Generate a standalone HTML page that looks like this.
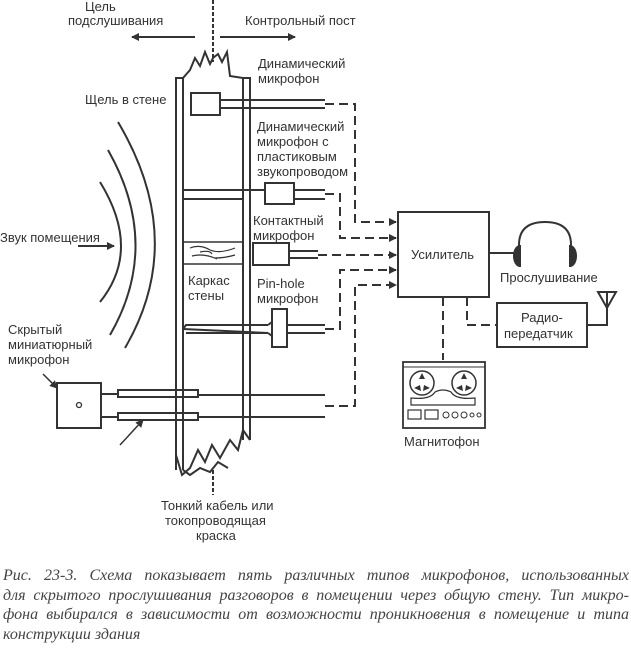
<!DOCTYPE html>
<html><head><meta charset="utf-8"><style>
html,body{margin:0;padding:0;background:#fff;}
svg{display:block;}
.t{font-family:"Liberation Sans",sans-serif;font-size:13px;fill:#333;}
.cap{position:absolute;left:3px;top:566px;width:626px;font-family:"Liberation Serif",serif;font-style:italic;font-size:16px;line-height:19.7px;color:#444;}
.cap div{text-align:justify;text-align-last:justify;white-space:nowrap;}
.cap div.l{text-align-last:left;}
</style></head><body>
<div style="position:relative;width:631px;height:650px;overflow:hidden">
<svg width="631" height="650" viewBox="0 0 631 650">
<defs><marker id="a" markerWidth="8" markerHeight="8" refX="7" refY="4" orient="auto" markerUnits="userSpaceOnUse"><path d="M0,0 L8,4 L0,8z" fill="#333"/></marker></defs>
<g stroke="#333" stroke-width="2" fill="none">
<line x1="213" y1="0" x2="213" y2="62" stroke-dasharray="4,2"/>
<line x1="195" y1="37" x2="132" y2="37" marker-end="url(#a)"/>
<line x1="220" y1="37" x2="295" y2="37" marker-end="url(#a)"/>
<path d="M176,470 L176,78 L183,78 L190,70 L195,58 L200,66 L205,52 L210,64 L213,58 L218,54 L222,62 L227,52 L230,76 L243,78 L250,78 L250,440"/>
<line x1="183" y1="78" x2="183" y2="470"/>
<line x1="243" y1="78" x2="243" y2="440"/>
<line x1="183" y1="190" x2="325" y2="190"/>
<line x1="183" y1="199" x2="243" y2="199"/>
<path d="M176,455 L182,475 L190,468 L198,450 L205,462 L212,445 L220,458 L230,440 L238,450 L243,430 L250,440"/>
<path d="M183,470 L190,475 L200,468 L210,472 L218,462 L228,468"/>
<line x1="213" y1="470" x2="213" y2="495" stroke-dasharray="4,2"/>
<rect x="183" y="242" width="60" height="22" stroke-width="1.5"/>
<path d="M190,248 q10,-4 20,2 q10,4 25,-2 M192,256 q12,-3 25,3 M200,252 q10,-2 12,2 M215,258 q10,0 20,-3" stroke-width="1.2"/>
<rect x="191" y="93" width="29" height="22" fill="#fff"/>
<line x1="220" y1="100" x2="325" y2="100"/><line x1="220" y1="108" x2="325" y2="108"/>
<rect x="265" y="183" width="29" height="21" fill="#fff"/>
<line x1="294" y1="190" x2="325" y2="190"/><line x1="294" y1="199" x2="325" y2="199"/>
<rect x="253" y="243" width="36" height="22"/>
<line x1="289" y1="251" x2="318" y2="251"/><line x1="289" y1="258" x2="318" y2="258"/>
<path d="M183,329 L186,325 L268,325 M186,333 L268,333 L183,329"/>
<rect x="272" y="309" width="15" height="38" fill="#fff"/>
<line x1="268" y1="325" x2="272" y2="322"/><line x1="268" y1="333" x2="272" y2="336"/>
<line x1="287" y1="325" x2="325" y2="325"/><line x1="287" y1="333" x2="325" y2="333"/>
<rect x="57" y="383" width="44" height="45"/>
<circle cx="79" cy="405" r="2.5" stroke-width="1.3"/>
<line x1="101" y1="394" x2="118" y2="394"/><line x1="101" y1="417" x2="118" y2="417"/>
<rect x="118" y="390" width="80" height="7"/><rect x="118" y="413" width="80" height="7"/>
<line x1="198" y1="395" x2="325" y2="395"/><line x1="198" y1="417" x2="325" y2="417"/>
<line x1="43" y1="374" x2="57" y2="388" marker-end="url(#a)" stroke-width="1.5"/>
<line x1="120" y1="445" x2="143" y2="420" marker-end="url(#a)" stroke-width="1.5"/>
<path d="M108,150 Q162,245 110,335"/>
<path d="M118,122 Q188,240 125,348"/>
<path d="M100,182 Q142,250 100,302"/>
<line x1="78" y1="246" x2="114" y2="246" marker-end="url(#a)"/>
<g stroke-dasharray="9,5">
<path d="M325,104 L355,104 L355,222 L396,222" marker-end="url(#a)"/>
<path d="M325,194 L340,194 L340,238 L396,238" marker-end="url(#a)"/>
<path d="M318,255 L396,255" marker-end="url(#a)"/>
<path d="M325,329 L340,329 L340,270 L396,270" marker-end="url(#a)"/>
<path d="M325,406 L355,406 L355,285 L396,285" marker-end="url(#a)"/>
<path d="M443,297 L443,360"/>
<path d="M467,297 L467,325 L497,325"/>
</g>
<rect x="398" y="212" width="91" height="85"/>
<line x1="489" y1="253" x2="515" y2="253"/>
<path d="M519,258 L519,245 Q519,222 545,222 Q571,222 571,245 L571,258"/>
<path d="M520,246 a6,10 0 0 0 0,20z" fill="#333"/>
<path d="M570,246 a6,10 0 0 1 0,20z" fill="#333"/>
<rect x="497" y="303" width="90" height="44"/>
<path d="M587,325 L607,325 L607,305"/>
<path d="M598,292 L616,292 L607,308z M607,292 L607,305"/>
<rect x="403" y="362" width="82" height="66" stroke-width="1.8"/>
<line x1="403" y1="367" x2="485" y2="367" stroke-width="1"/>
<circle cx="422" cy="383" r="12" stroke-width="1.5"/><circle cx="464" cy="383" r="12" stroke-width="1.5"/>
<path d="M411,398 Q430,400 435,392 Q443,388 451,392 Q456,400 475,398 L475,405 L411,405z" stroke-width="1.2"/>
<rect x="408" y="410" width="13" height="9" stroke-width="1.2"/><rect x="425" y="410" width="13" height="9" stroke-width="1.2"/>
<g stroke-width="1"><circle cx="446" cy="415" r="3"/><circle cx="455" cy="415" r="3"/><circle cx="464" cy="415" r="3"/><circle cx="472" cy="415" r="2"/><circle cx="479" cy="415" r="2"/></g>
</g>
<g fill="#333">
<path d="M422,373 l3,6 -6,0z M414,388 l6,-3 1,6z M430,388 l-6,-3 -1,6z M464,373 l3,6 -6,0z M456,388 l6,-3 1,6z M472,388 l-6,-3 -1,6z"/>
</g>
<g class="t">
<text x="85" y="11">Цель</text>
<text x="68" y="25">подслушивания</text>
<text x="245" y="25">Контрольный пост</text>
<text x="258" y="68">Динамический</text>
<text x="258" y="83">микрофон</text>
<text x="85" y="104">Щель в стене</text>
<text x="257" y="131">Динамический</text>
<text x="257" y="146">микрофон с</text>
<text x="257" y="161">пластиковым</text>
<text x="257" y="176">звукопроводом</text>
<text x="253" y="225">Контактный</text>
<text x="253" y="240">микрофон</text>
<text x="0" y="242">Звук помещения</text>
<text x="188" y="285">Каркас</text>
<text x="188" y="300">стены</text>
<text x="257" y="288">Pin-hole</text>
<text x="257" y="303">микрофон</text>
<text x="8" y="334">Скрытый</text>
<text x="8" y="349">миниатюрный</text>
<text x="8" y="364">микрофон</text>
<text x="411" y="259">Усилитель</text>
<text x="500" y="282">Прослушивание</text>
<text x="521" y="322">Радио-</text>
<text x="504" y="338">передатчик</text>
<text x="404" y="446">Магнитофон</text>
<text x="161" y="510">Тонкий кабель или</text>
<text x="165" y="525">токопроводящая</text>
<text x="196" y="540">краска</text>
</g>
</svg>
<div class="cap">
<div>Рис. 23-3. Схема показывает пять различных типов микрофонов, использованных</div>
<div>для скрытого прослушивания разговоров в помещении через общую стену. Тип микро-</div>
<div>фона выбирался в зависимости от возможности проникновения в помещение и типа</div>
<div class="l">конструкции здания</div>
</div>
</div>
</body></html>
